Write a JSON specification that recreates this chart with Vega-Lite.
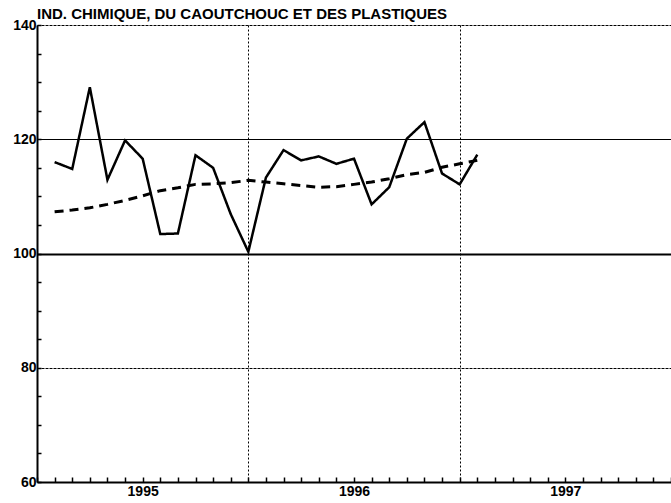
{
  "$schema": "https://vega.github.io/schema/vega-lite/v6.json",
  "width": 634,
  "height": 457,
  "autosize": {"type": "none"},
  "padding": {"left": 37, "top": 25, "right": 0, "bottom": 21},
  "background": "white",
  "title": {
    "text": "IND. CHIMIQUE, DU CAOUTCHOUC ET DES PLASTIQUES",
    "anchor": "start",
    "frame": "group",
    "font": "Liberation Sans",
    "fontSize": 15,
    "fontWeight": "bold",
    "color": "black",
    "offset": -4
  },
  "config": {
    "view": {"stroke": null},
    "axis": {
      "labelFont": "Liberation Sans",
      "labelFontWeight": "bold",
      "labelFontSize": 14,
      "labelColor": "black",
      "domainColor": "black",
      "domainWidth": 2,
      "tickColor": "black",
      "title": null,
      "labelOverlap": false,
      "labelFlush": false
    }
  },
  "data": {
    "values": [
      {"month": 1, "index": 116.0, "trend": 107.3},
      {"month": 2, "index": 114.8, "trend": 107.6},
      {"month": 3, "index": 129.1, "trend": 108.0},
      {"month": 4, "index": 112.9, "trend": 108.6},
      {"month": 5, "index": 119.8, "trend": 109.3},
      {"month": 6, "index": 116.6, "trend": 110.1},
      {"month": 7, "index": 103.4, "trend": 111.0},
      {"month": 8, "index": 103.5, "trend": 111.5},
      {"month": 9, "index": 117.2, "trend": 112.1},
      {"month": 10, "index": 115.0, "trend": 112.2},
      {"month": 11, "index": 106.9, "trend": 112.4},
      {"month": 12, "index": 100.3, "trend": 112.8},
      {"month": 13, "index": 113.3, "trend": 112.5},
      {"month": 14, "index": 118.1, "trend": 112.2},
      {"month": 15, "index": 116.3, "trend": 111.9},
      {"month": 16, "index": 117.0, "trend": 111.6},
      {"month": 17, "index": 115.7, "trend": 111.7},
      {"month": 18, "index": 116.6, "trend": 112.1},
      {"month": 19, "index": 108.6, "trend": 112.5},
      {"month": 20, "index": 111.6, "trend": 113.1},
      {"month": 21, "index": 120.1, "trend": 113.8},
      {"month": 22, "index": 123.0, "trend": 114.2},
      {"month": 23, "index": 114.0, "trend": 115.1},
      {"month": 24, "index": 112.1, "trend": 115.7},
      {"month": 25, "index": 117.3, "trend": 116.3}
    ]
  },
  "transform": [{"fold": ["index", "trend"], "as": ["series", "value"]}],
  "mark": {"type": "line", "color": "black", "strokeJoin": "miter"},
  "encoding": {
    "x": {
      "field": "month",
      "type": "quantitative",
      "scale": {"domain": [0, 36], "nice": false, "zero": false},
      "axis": {
        "values": [0,1,2,3,4,5,6,7,8,9,10,11,12,13,14,15,16,17,18,19,20,21,22,23,24,25,26,27,28,29,30,31,32,33,34,35,36],
        "labelExpr": "datum.value == 6 ? '1995' : (datum.value == 18 ? '1996' : (datum.value == 30 ? '1997' : ''))",
        "tickSize": -5,
        "tickWidth": 1.5,
        "labelPadding": 7,
        "labelBaseline": "top",
        "labelAlign": "center",
        "grid": true,
        "gridColor": "black",
        "gridWidth": 1,
        "gridDash": [2, 2],
        "gridOpacity": {"condition": {"test": "datum.value == 12 || datum.value == 24", "value": 1}, "value": 0}
      }
    },
    "y": {
      "field": "value",
      "type": "quantitative",
      "scale": {"domain": [60, 140], "nice": false, "zero": false},
      "axis": {
        "values": [60,65,70,75,80,85,90,95,100,105,110,115,120,125,130,135,140],
        "labelExpr": "datum.value % 20 == 0 ? datum.label : ''",
        "tickSize": -4,
        "tickWidth": 1.5,
        "labelPadding": 5,
        "labelBaseline": "middle",
        "grid": true,
        "gridColor": "black",
        "gridWidth": {"condition": {"test": "datum.value == 100", "value": 2}, "value": 1},
        "gridDash": {"condition": {"test": "datum.value == 100 || datum.value == 120", "value": []}, "value": [3, 1]},
        "gridOpacity": {"condition": {"test": "datum.value % 20 == 0 && datum.value > 60", "value": 1}, "value": 0}
      }
    },
    "strokeDash": {
      "field": "series",
      "type": "nominal",
      "scale": {"domain": ["index", "trend"], "range": [[1, 0], [9, 6]]},
      "legend": null
    },
    "strokeWidth": {
      "field": "series",
      "type": "nominal",
      "scale": {"domain": ["index", "trend"], "range": [2.5, 3]},
      "legend": null
    }
  }
}
